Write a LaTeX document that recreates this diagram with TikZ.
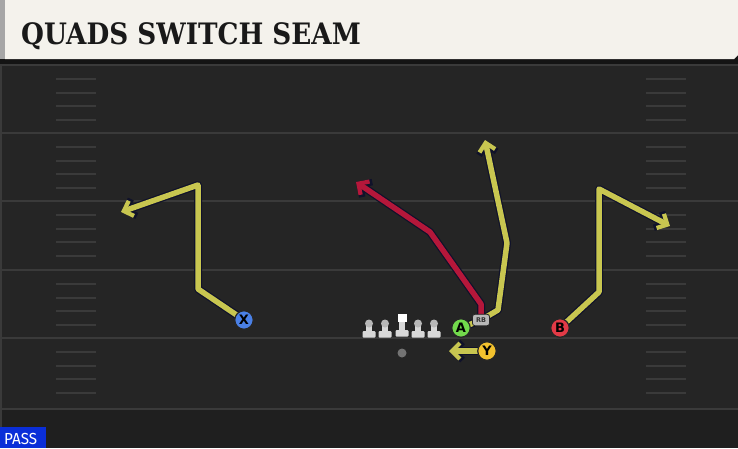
\documentclass[tikz,border=0pt]{standalone}
\usepackage{graphicx}
\usepackage{fontspec}
\setmainfont{DejaVu Sans}
\newfontfamily\titlefont{DejaVu Serif}
\newfontfamily\passfont{Fira Sans}
\usetikzlibrary{arrows.meta}
\definecolor{fieldbg}{HTML}{252525}
\definecolor{fieldline}{HTML}{3A3A3A}
\definecolor{cream}{HTML}{F4F2EC}
\definecolor{routey}{HTML}{C8C650}
\definecolor{router}{HTML}{B5173A}
\definecolor{routeedge}{HTML}{10122A}
\definecolor{bluep}{HTML}{4A80E6}
\definecolor{greenp}{HTML}{72D94C}
\definecolor{redp}{HTML}{E23A46}
\definecolor{yellowp}{HTML}{F3C22E}
\definecolor{passblue}{HTML}{0A2ED8}
\definecolor{olgrey}{HTML}{D8D8D8}
\tikzset{
  yard/.style={draw=fieldline, line width=2pt},
  hash/.style={draw=fieldline, line width=1.6pt},
  routeout/.style={draw=routeedge, line width=8pt, line join=round,
    -{Straight Barb[length=9pt,width=18pt,line width=6.5pt]}},
  routein/.style={line width=5.5pt, line join=round,
    -{Straight Barb[length=8pt,width=16pt,line width=4.2pt]}},
  player/.style={circle, draw=black!85, line width=1.2pt, minimum size=18.5pt,
    inner sep=0pt, font=\bfseries\fontsize{13}{13}\selectfont, text=black},
  rbbox/.style={rectangle, rounded corners=2.5pt, draw=black!85, line width=0.8pt,
    fill=black!28, minimum width=17pt, minimum height=11.5pt, inner sep=0pt,
    font=\bfseries\fontsize{6.5}{6.5}\selectfont, text=black!80},
  olm/.style={fill=olgrey, draw=none}
}
\begin{document}
\begin{tikzpicture}[x=1pt,y=-1pt]
\useasboundingbox (0,0) rectangle (738,448);
% background
\fill[fieldbg] (0,0) rectangle (738,448);
\fill[black!88] (0,408) rectangle (738,448);
\fill[fieldline] (0,60) rectangle (2,448);
% yard lines
\foreach \yy in {65,133,201,270,338,409} {
  \draw[yard] (0,\yy) -- (738,\yy);
}
% hash marks
\foreach \yy in {65,133,201,270,338} {
  \foreach \dd in {14,28,41,55} {
    \draw[hash] (56,\yy+\dd) -- (96,\yy+\dd);
    \draw[hash] (646,\yy+\dd) -- (686,\yy+\dd);
  }
}
% header
\fill[black!92] (0,56) rectangle (738,64);
\fill[cream] (5,0) -- (738,0) -- (738,55) -- (734,59) -- (5,59) -- cycle;
\fill[black!35] (0,0) rectangle (5,59);
\node[anchor=base west, inner sep=0pt, font=\titlefont\bfseries\fontsize{29.5}{29.5}\selectfont, text=black!90] (title) at (21,44) {\scalebox{0.89}[1]{QUADS SWITCH SEAM}};
% pass tag
\fill[passblue] (0,427) rectangle (46,448);
\node[anchor=base west, inner sep=0pt, font=\passfont\fontsize{16}{16}\selectfont, text=white] (pass) at (4,444) {\scalebox{0.95}[1]{PASS}};
% player positions
\coordinate (pX) at (244,320);
\coordinate (pA) at (461,328);
\coordinate (pB) at (560,328);
\coordinate (pY) at (487,351);
\coordinate (pRB) at (481,320);
% route bends
\coordinate (x1) at (198,289);
\coordinate (x2) at (198,185);
\coordinate (x3) at (121,212);
\coordinate (a1) at (498,310);
\coordinate (a2) at (507,243);
\coordinate (a3) at (485,140);
\coordinate (r1) at (481,304);
\coordinate (r2) at (430,232);
\coordinate (r3) at (356,182);
\coordinate (b1) at (599,292);
\coordinate (b2) at (599,189);
\coordinate (b3) at (670,226);
\coordinate (y1) at (449,351);
% outlines
\draw[routeout] (pX) -- (x1) -- (x2) -- (x3);
\draw[routeout] (pB) -- (b1) -- (b2) -- (b3);
\draw[routeout] (pY) -- (y1);
\draw[routeout] (pRB) -- (r1) -- (r2) -- (r3);
\draw[routeout] (pA) -- (pRB) -- (a1) -- (a2) -- (a3);
% fills
\draw[routein, draw=routey] (pX) -- (x1) -- (x2) -- (x3);
\draw[routein, draw=routey] (pB) -- (b1) -- (b2) -- (b3);
\draw[routein, draw=routey] (pY) -- (y1);
\draw[routein, draw=router] (pRB) -- (r1) -- (r2) -- (r3);
\draw[routein, draw=routey] (pA) -- (pRB) -- (a1) -- (a2) -- (a3);
% offensive line
\foreach \xx in {369,385,418,434} {
  \fill[olm, rounded corners=1pt] (\xx-6.5,331) rectangle (\xx+6.5,337.5);
  \fill[olm] (\xx-2.8,325) rectangle (\xx+2.8,332);
  \fill[black!28] (\xx,323.5) circle (4);
}
\fill[olm, rounded corners=1pt] (402-6.5,330) rectangle (402+6.5,336.5);
\fill[olm] (402-2.8,321) rectangle (402+2.8,331);
\fill[white] (397.5,313.5) rectangle (406.5,322);
% QB
\fill[black!55] (402,353) circle (4.5);
% players
\node[player, fill=bluep] (X) at (pX) {X};
\node[player, fill=greenp] (A) at (pA) {A};
\node[player, fill=redp] (B) at (pB) {B};
\node[player, fill=yellowp] (Y) at (pY) {Y};
\node[rbbox] (RB) at (pRB) {RB};
\end{tikzpicture}
\end{document}
